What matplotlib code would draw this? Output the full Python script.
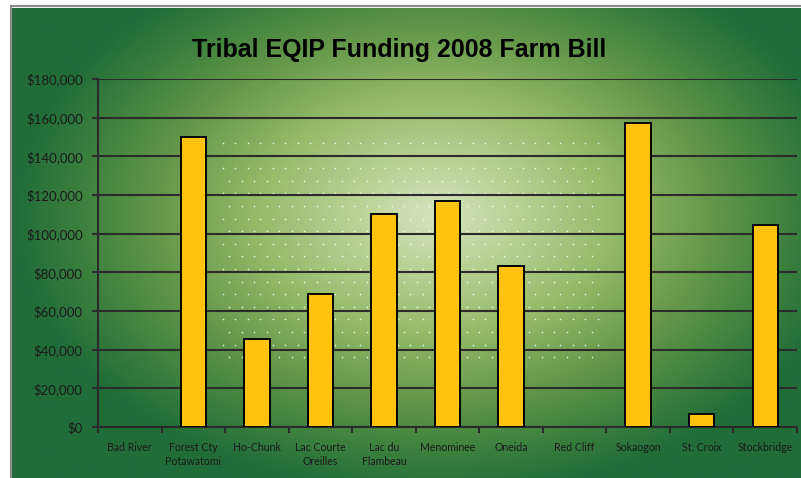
import matplotlib
matplotlib.use('Agg')
import matplotlib.pyplot as plt
import numpy as np
from matplotlib.colors import LinearSegmentedColormap
from matplotlib.patches import Rectangle
from matplotlib.ticker import FuncFormatter, FixedLocator

tribes = ['Bad River', 'Forest Cty\nPotawatomi', 'Ho-Chunk', 'Lac Courte\nOreilles',
          'Lac du\nFlambeau', 'Menominee', 'Oneida', 'Red Cliff', 'Sokaogon',
          'St. Croix', 'Stockbridge']
funding = [0, 150000, 45500, 69000, 110000, 117000, 83500, 0, 157500, 6800, 104500]

BAR = '#ffc20e'
INK = '#1b1b1b'
GRID = '#2b2b2b'

W, H = 801, 478
fig = plt.figure(figsize=(W / 100, H / 100), dpi=100)
fig.patch.set_facecolor('white')

# green backdrop with a soft radial highlight
bg = fig.add_axes([12 / W, 0, (W - 12) / W, (H - 8) / H])
bg.set_axis_off()
nx, ny = 400, 240
xs = np.linspace(12, W, nx)
ys = np.linspace(8, H, ny)
X, Y = np.meshgrid(xs, ys)
r = np.sqrt(((X - 435) / 420) ** 2 + ((Y - 215) / 280) ** 2)
r = np.clip(r, 0, 1)
greens = LinearSegmentedColormap.from_list('greens', [
    (0.0, '#d4e4be'), (0.2, '#b8d194'), (0.42, '#95bb6a'),
    (0.65, '#66994a'), (0.85, '#3c803e'), (1.0, '#216d39')])
bg.imshow(r, cmap=greens, vmin=0, vmax=1, aspect='auto',
          extent=[12, W, H, 8], interpolation='bilinear')
bg.set_xlim(12, W)
bg.set_ylim(H, 8)

# faint dot texture in the bright middle
dx, dy = [], []
for j, yy in enumerate(np.arange(143, 358, 12.6)):
    off = 0 if j % 2 == 0 else 6.3
    for xx in np.arange(223 + off, 601, 12.5):
        dx.append(xx)
        dy.append(yy)
bg.scatter(dx, dy, s=1.5, color='white', alpha=0.8, linewidths=0)

# grey frame on the left and top
fig.add_artist(Rectangle((10.5 / W, -0.01), W / W, (H - 6.5) / H + 0.01,
                         transform=fig.transFigure, fill=False,
                         edgecolor='#8a8a8a', linewidth=1.6))

ax = fig.add_axes([98 / W, (H - 427) / H, (797 - 98) / W, (427 - 79) / H])
ax.set_facecolor('none')
x = np.arange(len(tribes))
bars = ax.bar(x, funding, width=0.4, color=BAR, edgecolor='black', linewidth=1.4, zorder=3)
for b, v in zip(bars, funding):
    if v == 0:
        b.set_visible(False)

ax.set_xlim(-0.5, len(tribes) - 0.5)
ax.set_ylim(0, 180000)
ax.set_yticks(np.arange(0, 180001, 20000))
ax.yaxis.set_major_formatter(FuncFormatter(lambda v, p: f'${v:,.0f}'))
ax.grid(axis='y', color=GRID, linewidth=1.5, zorder=1)
ax.set_axisbelow(True)

for s in ['top', 'right']:
    ax.spines[s].set_visible(False)
for s in ['left', 'bottom']:
    ax.spines[s].set_color(GRID)
    ax.spines[s].set_linewidth(1.5)

ax.set_xticks(x)
ax.set_xticklabels(tribes, fontsize=7.6, family='Lato', color=INK, linespacing=1.3)
ax.tick_params(axis='x', which='major', length=0, pad=11)
ax.xaxis.set_minor_locator(FixedLocator(np.arange(-0.5, len(tribes), 1.0)))
ax.tick_params(axis='x', which='minor', length=4, width=1.5, color=GRID, direction='out')
ax.tick_params(axis='y', length=4, width=1.5, color=GRID, pad=7, labelsize=9.5, labelcolor=INK)
for lbl in ax.get_yticklabels():
    lbl.set_family('Lato')

fig.text(399 / W, 1 - 50 / H, 'Tribal EQIP Funding 2008 Farm Bill', ha='center', va='center',
         fontsize=18, fontweight='bold', family='Liberation Sans', color='black')

fig.savefig('out.png', dpi=100)
